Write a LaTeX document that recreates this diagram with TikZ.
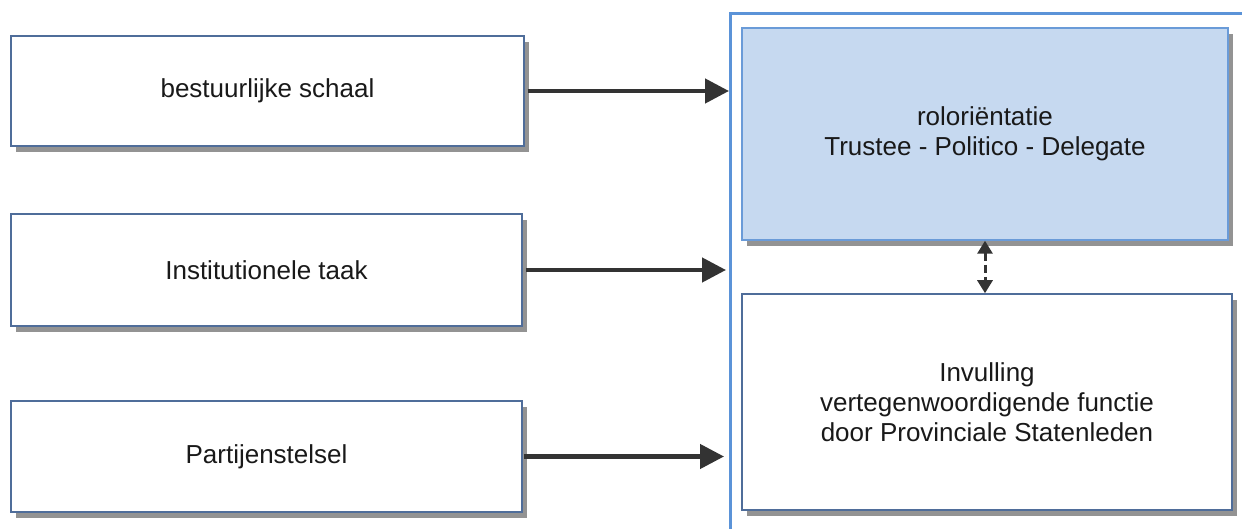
\documentclass[tikz,border=0pt]{standalone}
\usepackage{fontspec}
\setmainfont{Liberation Sans}
\usetikzlibrary{arrows.meta,shadows}
\definecolor{boxline}{HTML}{4F6D9A}
\definecolor{bluefill}{HTML}{C6D9F0}
\definecolor{blueline}{HTML}{6A9BD8}
\definecolor{outerline}{HTML}{5B93D8}
\definecolor{arrowc}{HTML}{333333}
\tikzset{
  boxstyle/.style={draw=boxline, line width=1.5pt, fill=white, rectangle, align=center,
    font=\fontsize{26}{30}\selectfont, text=black!90,
    drop shadow={shadow xshift=5pt, shadow yshift=-6pt, fill=black!70, opacity=0.6}},
  bluebox/.style={boxstyle, draw=blueline, fill=bluefill},
  bigarrow/.style={draw=arrowc, line width=4.5pt, -{Triangle[length=24pt,width=24pt]}},
  dasharrow/.style={draw=arrowc, line width=3pt, dash pattern=on 8pt off 4pt,
    {Triangle[length=13pt,width=15pt]}-{Triangle[length=13pt,width=15pt]}}
}
\begin{document}
\begin{tikzpicture}[x=1pt,y=-1pt]
\useasboundingbox[fill=white] (0,0) rectangle (1242,529);
\begin{scope}
\clip (0,0) rectangle (1242,529);
\node[draw=outerline, line width=3pt, rectangle, minimum width=540pt, minimum height=560pt, anchor=north west] (outer) at (729,12) {};
\end{scope}
\node[boxstyle, minimum width=513pt, minimum height=110pt] (b1) at (267.5,91) {bestuurlijke schaal};
\node[boxstyle, minimum width=511pt, minimum height=112pt] (b2) at (266.5,270) {Institutionele taak};
\node[boxstyle, minimum width=511pt, minimum height=111pt] (b3) at (266.5,456.5) {Partijenstelsel};
\node[bluebox, minimum width=486pt, minimum height=212pt] (rol) at (985,134) {roloriëntatie\\Trustee - Politico - Delegate};
\node[boxstyle, minimum width=490pt, minimum height=216pt] (inv) at (987,402) {Invulling\\vertegenwoordigende functie\\door Provinciale Statenleden};
\draw[bigarrow] (b1.east) ++(3,0) coordinate (s1) -- (s1 -| outer.west);
\draw[bigarrow] (b2.east) ++(3,0) coordinate (s2) -- ([xshift=-3pt]s2 -| outer.west);
\draw[bigarrow] (b3.east) ++(1,0) coordinate (s3) -- ([xshift=-5pt]s3 -| outer.west);
\draw[dasharrow] (rol.south) -- (rol.south |- inv.north);
\end{tikzpicture}
\end{document}
